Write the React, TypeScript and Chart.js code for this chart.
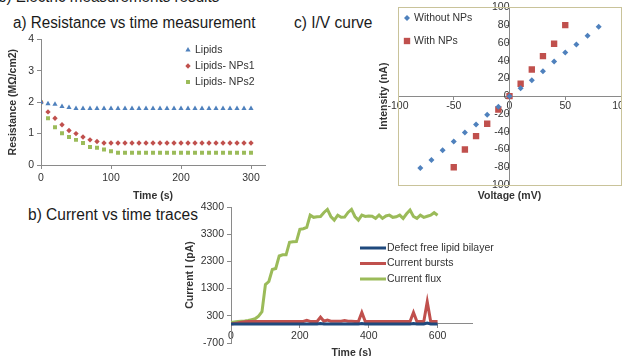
import React, { useEffect, useRef } from 'react';
import { Chart, registerables } from 'chart.js';

Chart.register(...registerables);

const FONT = '"Liberation Sans", Arial, sans-serif';
const TICK_COLOR = '#333333';
const AXIS_COLOR = '#8a8a8a';

// ---------- a) Resistance vs time ----------
const resTimes = [0, 10, 20, 30, 40, 50, 60, 70, 80, 90, 100, 110, 120, 130, 140, 150, 160, 170, 180, 190, 200, 210, 220, 230, 240, 250, 260, 270, 280, 290, 300];
const lipids = [2.0, 1.95, 1.93, 1.86, 1.83, 1.8, 1.8, 1.8, 1.8, 1.8, 1.8, 1.8, 1.8, 1.8, 1.8, 1.8, 1.8, 1.8, 1.8, 1.8, 1.8, 1.8, 1.8, 1.8, 1.8, 1.8, 1.8, 1.8, 1.8, 1.8, 1.8];
const lipidsNPs1 = [2.0, 1.69, 1.49, 1.28, 1.1, 1.0, 0.89, 0.8, 0.75, 0.7, 0.7, 0.7, 0.7, 0.7, 0.7, 0.7, 0.7, 0.7, 0.7, 0.7, 0.7, 0.7, 0.7, 0.7, 0.7, 0.7, 0.7, 0.7, 0.7, 0.7, 0.7];
const lipidsNPs2 = [2.0, 1.49, 1.2, 1.01, 0.89, 0.8, 0.7, 0.57, 0.55, 0.49, 0.44, 0.39, 0.39, 0.39, 0.39, 0.39, 0.39, 0.39, 0.39, 0.39, 0.39, 0.39, 0.39, 0.39, 0.39, 0.39, 0.39, 0.39, 0.39, 0.39, 0.39];
const resXTicks = [0, 100, 200, 300];
const resYTicks = [0, 1, 2, 3, 4];

// ---------- c) I/V curve ----------
const voltWithout = [-80, -70, -60, -50, -40, -30, -20, -10, 0, 10, 20, 30, 40, 50, 60, 70, 80];
const currWithout = [-81, -72, -61, -51, -41, -32, -21, -12, 0, 9, 18, 28, 39, 49, 58, 68, 78];
const voltWith = [-50, -40, -30, -20, -10, 0, 10, 20, 30, 40, 50];
const currWith = [-80, -60, -45, -31, -15, 0, 14, 30, 45, 59, 80];
const ivXTicks = [-100, -50, 0, 50, 100];
const ivYTicks = [-100, -80, -60, -40, -20, 0, 20, 40, 60, 80, 100];

// ---------- b) Current vs time traces ----------
const traceTimes = [0, 10, 20, 30, 40, 50, 60, 70, 80, 90, 100, 110, 120, 130, 140, 150, 160, 170, 180, 190, 200, 210, 220, 230, 240, 250, 260, 270, 280, 290, 300, 310, 320, 330, 340, 350, 360, 370, 380, 390, 400, 410, 420, 430, 440, 450, 460, 470, 480, 490, 500, 510, 520, 530, 540, 550, 560, 570, 580, 590, 600];
const defectFree = [0, 0, 0, 0, 0, 0, 0, 0, 0, 0, 0, 0, 0, 0, 0, 0, 0, 0, 0, 0, 0, 0, 0, 0, 0, 0, 20, 0, 0, 0, 0, 0, 0, 0, 0, 0, 0, 0, 20, 0, 0, 0, 0, 0, 0, 0, 0, 0, 0, 0, 0, 0, 0, 20, 0, 0, 0, 30, 0, 0, 0];
const bursts = [0, 20, 40, 60, 80, 90, 90, 90, 90, 90, 90, 90, 90, 90, 90, 90, 90, 90, 90, 90, 90, 90, 130, 90, 90, 90, 250, 100, 140, 100, 100, 100, 100, 130, 100, 100, 90, 90, 420, 90, 90, 90, 90, 90, 90, 90, 90, 90, 90, 90, 90, 90, 90, 420, 90, 90, 90, 820, 90, 90, 90];
const flux = [50, 70, 90, 100, 110, 130, 160, 190, 290, 450, 1450, 1560, 2000, 2040, 2500, 2540, 2540, 3000, 3020, 3030, 3480, 3500, 3550, 4000, 3920, 3940, 3950, 4100, 4210, 3950, 3820, 4000, 3920, 3930, 4100, 4210, 3950, 3820, 4000, 3950, 3970, 3960, 3880, 4000, 3880, 3970, 4000, 3920, 3940, 4000, 3880, 4050, 4190, 3950, 3880, 4000, 3920, 3960, 4000, 4090, 4000];
const traceXTicks = [0, 200, 400, 600];
const traceYTicks = [-700, 300, 1300, 2300, 3300, 4300];

const toXY = (xs: number[], ys: number[]) => xs.map((x, i) => ({ x, y: ys[i] }));
const fixedTicks = (vals: number[]) => (scale: any) => {
  scale.ticks = vals.map((v) => ({ value: v }));
};
const plainLabel = (v: any) => String(v);

function drawMarker(ctx: CanvasRenderingContext2D, style: string, x: number, y: number, r: number, color: string) {
  ctx.fillStyle = color;
  ctx.beginPath();
  if (style === 'triangle') {
    ctx.moveTo(x, y - r);
    ctx.lineTo(x + r * 0.866, y + r * 0.5);
    ctx.lineTo(x - r * 0.866, y + r * 0.5);
  } else if (style === 'rectRot') {
    ctx.moveTo(x, y - r);
    ctx.lineTo(x + r, y);
    ctx.lineTo(x, y + r);
    ctx.lineTo(x - r, y);
  } else {
    const s = r * Math.SQRT1_2;
    ctx.rect(x - s, y - s, 2 * s, 2 * s);
  }
  ctx.closePath();
  ctx.fill();
}

const placedLegend = {
  id: 'placedLegend',
  afterDraw(chart: any, _args: any, opts: any) {
    if (!opts || opts.x === undefined) return;
    const ctx: CanvasRenderingContext2D = chart.ctx;
    ctx.save();
    ctx.font = opts.font;
    ctx.textBaseline = 'middle';
    ctx.textAlign = 'left';
    chart.data.datasets.forEach((ds: any, i: number) => {
      const y = opts.y + i * opts.gap;
      if (opts.kind === 'line') {
        ctx.strokeStyle = ds.borderColor;
        ctx.lineWidth = ds.borderWidth;
        ctx.beginPath();
        ctx.moveTo(opts.x, y);
        ctx.lineTo(opts.x + opts.lineLength, y);
        ctx.stroke();
        ctx.fillStyle = opts.color;
        ctx.fillText(ds.label, opts.x + opts.lineLength + 1, y);
      } else {
        drawMarker(ctx, ds.pointStyle, opts.x, y, ds.pointRadius, ds.backgroundColor);
        ctx.fillStyle = opts.color;
        ctx.fillText(ds.label, opts.x + opts.textOffset, y);
      }
    });
    ctx.restore();
  },
};

const boxBorder = {
  id: 'boxBorder',
  beforeDatasetsDraw(chart: any, _args: any, opts: any) {
    if (!opts || !opts.color) return;
    const { left, top, right, bottom } = chart.chartArea;
    const ctx: CanvasRenderingContext2D = chart.ctx;
    ctx.save();
    ctx.strokeStyle = opts.color;
    ctx.lineWidth = 1;
    ctx.strokeRect(Math.round(left) + 0.5, Math.round(top) + 0.5, Math.round(right - left), Math.round(bottom - top));
    ctx.restore();
  },
};

const tickFont = { family: FONT, size: 10.5 };
const titleFont = { family: FONT, size: 10.5, weight: 'bold' as const };

export default function App() {
  const refA = useRef<HTMLCanvasElement>(null);
  const refB = useRef<HTMLCanvasElement>(null);
  const refC = useRef<HTMLCanvasElement>(null);

  useEffect(() => {
    const chartA = new Chart(refA.current!, {
      type: 'scatter',
      data: {
        datasets: [
          { label: 'Lipids', data: toXY(resTimes, lipids), pointStyle: 'triangle', pointRadius: 3, backgroundColor: '#4F81BD', borderWidth: 0 },
          { label: 'Lipids- NPs1', data: toXY(resTimes, lipidsNPs1), pointStyle: 'rectRot', pointRadius: 2.7, backgroundColor: '#C0504D', borderWidth: 0 },
          { label: 'Lipids- NPs2', data: toXY(resTimes, lipidsNPs2), pointStyle: 'rect', pointRadius: 2.8, backgroundColor: '#9BBB59', borderWidth: 0 },
        ] as any,
      },
      options: {
        animation: false,
        responsive: false,
        devicePixelRatio: 1,
        layout: { padding: { top: 7, left: 7, right: 25, bottom: 8 } },
        plugins: {
          legend: { display: false },
          tooltip: { enabled: false },
          placedLegend: { x: 188, y: 20, gap: 16, textOffset: 7, font: `10.5px ${FONT}`, color: TICK_COLOR },
        } as any,
        scales: {
          x: {
            type: 'linear', min: 0, max: 320,
            afterBuildTicks: fixedTicks(resXTicks),
            afterFit: (s: any) => { s.height = 37; },
            grid: { drawOnChartArea: false, drawTicks: true, tickLength: 4, color: AXIS_COLOR },
            border: { color: AXIS_COLOR },
            ticks: { font: tickFont, color: TICK_COLOR, padding: 3, maxRotation: 0, callback: plainLabel },
            title: { display: true, text: 'Time (s)', font: titleFont, color: TICK_COLOR, padding: 0 },
          },
          y: {
            type: 'linear', min: 0, max: 4,
            afterBuildTicks: fixedTicks(resYTicks),
            afterFit: (s: any) => { s.width = 34; },
            grid: { drawOnChartArea: false, drawTicks: true, tickLength: 4, color: AXIS_COLOR },
            border: { color: AXIS_COLOR },
            ticks: { font: tickFont, color: TICK_COLOR, padding: 3, callback: plainLabel },
            title: { display: true, text: 'Resistance (MΩ/cm2)', font: titleFont, color: TICK_COLOR, padding: 0 },
          },
        } as any,
      },
      plugins: [placedLegend],
    });

    const chartB = new Chart(refB.current!, {
      type: 'line',
      data: {
        datasets: [
          { label: 'Defect free lipid bilayer', data: toXY(traceTimes, defectFree), borderColor: '#1F497D', backgroundColor: '#1F497D', borderWidth: 3, pointRadius: 0, tension: 0 },
          { label: 'Current bursts', data: toXY(traceTimes, bursts), borderColor: '#C0504D', backgroundColor: '#C0504D', borderWidth: 3, pointRadius: 0, tension: 0 },
          { label: 'Current flux', data: toXY(traceTimes, flux), borderColor: '#9BBB59', backgroundColor: '#9BBB59', borderWidth: 3, pointRadius: 0, tension: 0 },
        ] as any,
      },
      options: {
        animation: false,
        responsive: false,
        devicePixelRatio: 1,
        layout: { padding: { top: 12, left: 4, right: 150, bottom: 0 } },
        plugins: {
          legend: { display: false },
          tooltip: { enabled: false },
          placedLegend: { kind: 'line', x: 180, y: 53, gap: 15.5, lineLength: 26, font: `10.5px ${FONT}`, color: TICK_COLOR },
        } as any,
        scales: {
          x: {
            type: 'linear', min: 0, max: 700,
            afterFit: (s: any) => { s.height = 16; },
            grid: { display: false },
            border: { display: false },
            ticks: { display: false },
            title: { display: true, text: 'Time (s)', font: titleFont, color: TICK_COLOR, padding: 0 },
          },
          xc: {
            type: 'linear', min: 0, max: 700, position: { y: 0 },
            afterBuildTicks: fixedTicks(traceXTicks),
            grid: { drawOnChartArea: false, drawTicks: true, tickLength: 4, color: AXIS_COLOR },
            border: { color: AXIS_COLOR },
            ticks: { font: tickFont, color: TICK_COLOR, padding: 2, maxRotation: 0, callback: plainLabel },
          },
          y: {
            type: 'linear', min: -700, max: 4300,
            afterBuildTicks: fixedTicks(traceYTicks),
            afterFit: (s: any) => { s.width = 47; },
            grid: { drawOnChartArea: false, drawTicks: true, tickLength: 4, color: AXIS_COLOR },
            border: { color: AXIS_COLOR },
            ticks: { font: tickFont, color: TICK_COLOR, padding: 3, callback: plainLabel },
            title: { display: true, text: 'Current I (pA)', font: titleFont, color: TICK_COLOR, padding: 0 },
          },
        } as any,
      },
      plugins: [placedLegend],
    });

    const chartC = new Chart(refC.current!, {
      type: 'scatter',
      data: {
        datasets: [
          { label: 'Without NPs', data: toXY(voltWithout, currWithout), pointStyle: 'rectRot', pointRadius: 3, backgroundColor: '#4F81BD', borderWidth: 0 },
          { label: 'With NPs', data: toXY(voltWith, currWith), pointStyle: 'rect', pointRadius: 4.5, backgroundColor: '#C0504D', borderWidth: 0 },
        ] as any,
      },
      options: {
        animation: false,
        responsive: false,
        devicePixelRatio: 1,
        layout: { padding: { top: 7, left: 6, right: 13, bottom: 0 } },
        plugins: {
          legend: { display: false },
          tooltip: { enabled: false },
          boxBorder: { color: '#C9C39A' },
          placedLegend: { x: 35, y: 18, gap: 23, textOffset: 7, font: `10.5px ${FONT}`, color: TICK_COLOR },
        } as any,
        scales: {
          x: {
            type: 'linear', min: -100, max: 100,
            afterFit: (s: any) => { s.height = 17; },
            grid: { display: false },
            border: { display: false },
            ticks: { display: false },
            title: { display: true, text: 'Voltage (mV)', font: titleFont, color: TICK_COLOR, padding: 0 },
          },
          y: {
            type: 'linear', min: -100, max: 100,
            afterFit: (s: any) => { s.width = 20; },
            grid: { display: false },
            border: { display: false },
            ticks: { display: false },
            title: { display: true, text: 'Intensity (nA)', font: titleFont, color: TICK_COLOR, padding: 0 },
          },
          xc: {
            type: 'linear', min: -100, max: 100, position: { y: 0 },
            afterBuildTicks: fixedTicks(ivXTicks),
            grid: { drawOnChartArea: false, drawTicks: true, tickLength: 3, color: AXIS_COLOR },
            border: { color: AXIS_COLOR },
            ticks: { font: tickFont, color: TICK_COLOR, padding: 1, maxRotation: 0, callback: plainLabel },
          },
          yc: {
            type: 'linear', min: -100, max: 100, position: { x: 0 },
            afterBuildTicks: fixedTicks(ivYTicks),
            grid: { drawOnChartArea: false, drawTicks: true, tickLength: 3, color: AXIS_COLOR },
            border: { color: AXIS_COLOR },
            ticks: { font: tickFont, color: TICK_COLOR, padding: 1, callback: plainLabel },
          },
        } as any,
      },
      plugins: [boxBorder, placedLegend],
    });

    return () => {
      chartA.destroy();
      chartB.destroy();
      chartC.destroy();
    };
  }, []);

  const titleStyle = (left: number, top: number, size: number, sx: number): React.CSSProperties => ({
    position: 'absolute', left, top, fontSize: size, lineHeight: `${size}px`, whiteSpace: 'nowrap', color: '#1a1a1a', fontFamily: FONT,
    transform: `scaleX(${sx})`, transformOrigin: 'left top',
  });

  return (
    <div style={{ position: 'absolute', left: 0, top: 0, width: 622, height: 356, overflow: 'hidden', background: '#ffffff', fontFamily: FONT }}>
      <div style={titleStyle(-2, -11, 16, 0.95)}>b)  Electric measurements results</div>
      <div style={titleStyle(13, 15, 16, 0.95)}>a) Resistance vs time measurement</div>
      <div style={titleStyle(294, 15, 16, 0.97)}>c) I/V curve</div>
      <div style={titleStyle(28, 207, 16, 0.97)}>b) Current vs time traces</div>
      <canvas ref={refA} width={290} height={180} style={{ position: 'absolute', left: 0, top: 30, width: 290, height: 180 }} />
      <canvas ref={refC} width={262} height={202} style={{ position: 'absolute', left: 372, top: 0, width: 262, height: 202 }} />
      <canvas ref={refB} width={442} height={164} style={{ position: 'absolute', left: 180, top: 195, width: 442, height: 164 }} />
    </div>
  );
}
